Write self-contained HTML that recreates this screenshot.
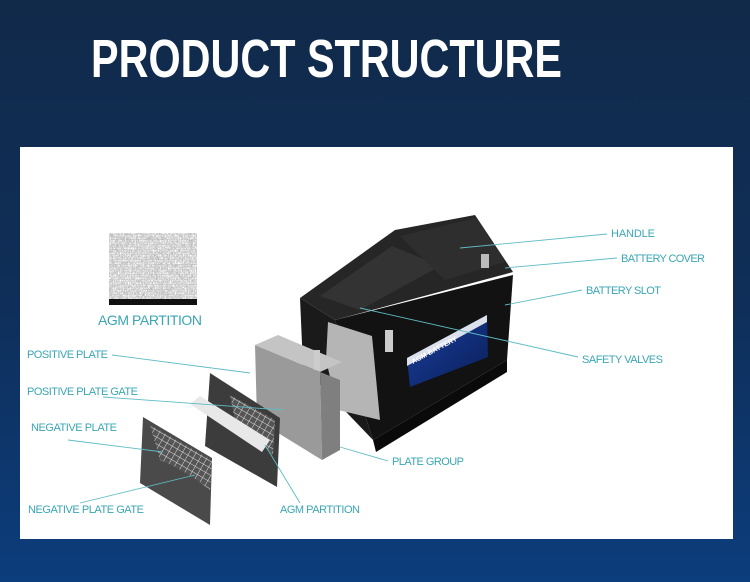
<!DOCTYPE html>
<html><head><meta charset="utf-8"><style>
html,body{margin:0;padding:0;width:750px;height:582px;overflow:hidden;background:#0f2a4a}
svg{display:block}
</style></head><body>
<svg width="750" height="582" viewBox="0 0 750 582" xmlns="http://www.w3.org/2000/svg">
<defs>
<linearGradient id="bg" x1="0" y1="0" x2="0" y2="1">
<stop offset="0" stop-color="#112a4a"/><stop offset="0.5" stop-color="#0f2e58"/><stop offset="1" stop-color="#0c3d7c"/>
</linearGradient>
<linearGradient id="lab" x1="0" y1="0" x2="1" y2="1">
<stop offset="0" stop-color="#1a3f9a"/><stop offset="1" stop-color="#0a1f5c"/>
</linearGradient>
<filter id="noise" filterUnits="userSpaceOnUse" x="109" y="233" width="88" height="66"><feTurbulence type="turbulence" baseFrequency="0.6 0.4" numOctaves="2" seed="5"/><feColorMatrix type="matrix" values="0.33 0.33 0.33 0 0  0.33 0.33 0.33 0 0  0.33 0.33 0.33 0 0  0 0 0 0 1"/><feComponentTransfer><feFuncR type="linear" slope="1.5" intercept="0.3"/><feFuncG type="linear" slope="1.5" intercept="0.3"/><feFuncB type="linear" slope="1.5" intercept="0.3"/></feComponentTransfer></filter>
<pattern id="grid" width="6" height="6" patternUnits="userSpaceOnUse" patternTransform="rotate(30)"><rect width="6" height="6" fill="#555"/><path d="M0 0H6M0 0V6" stroke="#ddd" stroke-width="1"/></pattern>
</defs>
<rect width="750" height="582" fill="url(#bg)"/>
<text x="91" y="77" font-family="Liberation Sans, sans-serif" font-size="54" font-weight="bold" fill="#fff" textLength="471" lengthAdjust="spacingAndGlyphs">PRODUCT STRUCTURE</text>
<rect x="20" y="147" width="713" height="392" fill="#fff"/>

<!-- AGM swatch -->
<rect x="109" y="233" width="88" height="66" fill="#8a8a8a"/>
<rect x="109" y="233" width="88" height="66" filter="url(#noise)"/>
<rect x="109" y="299" width="88" height="6" fill="#111"/>

<!-- battery -->
<polygon points="300,298 303,367 373,440 335,320" fill="#1a1a1a"/>
<polygon points="335,320 513,275 507,360 373,440" fill="#121212"/>
<polygon points="300,298 395,230 475,215 513,272 335,320" fill="#262626"/>
<polygon points="320,296 392,246 440,266 360,310" fill="#333"/>
<polygon points="400,236 476,218 505,262 445,280" fill="#2e2e2e"/>
<polygon points="373,440 507,360 507,372 376,452" fill="#0a0a0a"/>
<polygon points="407,358 487,315 488,357 410,387" fill="url(#lab)"/>
<polygon points="407,358 487,315 487,322 407,366" fill="#fff" opacity="0.85"/>
<text x="413" y="364" font-family="Liberation Sans,sans-serif" font-size="7" font-weight="bold" fill="#fff" transform="rotate(-28 413 364)">AGM BATTERY</text>
<rect x="481" y="254" width="8" height="14" fill="#bbb"/>
<!-- cutaway plates in battery -->
<polygon points="328,322 372,336 380,420 338,410 326,360" fill="#b5b5b5"/>
<rect x="385" y="330" width="8" height="22" fill="#ccc"/>
<!-- positive plate block -->
<polygon points="255,345 320,372 322,460 257,420" fill="#9a9a9a"/>
<polygon points="320,372 340,380 340,450 322,460" fill="#7f7f7f"/>
<polygon points="255,345 278,335 342,362 320,372" fill="#c4c4c4"/>
<rect x="314" y="350" width="6" height="20" fill="#ccc"/>
<!-- middle plate -->
<polygon points="210,373 280,418 277,487 205,446" fill="#3c3c3c"/>
<polygon points="230,395 275,420 273,455 235,420" fill="url(#grid)"/>
<path d="M190,404 L200,396 L270,440 L262,452 Z" fill="#e8e8e8"/>
<!-- negative plate -->
<polygon points="143,417 212,458 210,525 140,483" fill="#4a4a4a"/>
<path d="M150,425 L212,460 L210,490 Q185,470 160,460 Z" fill="url(#grid)"/>

<!-- leaders -->
<g stroke="#5fbcc4" stroke-width="0.9" fill="none">
<line x1="607" y1="234" x2="460" y2="248"/>
<line x1="617" y1="258" x2="505" y2="268"/>
<line x1="582" y1="290" x2="505" y2="305"/>
<line x1="578" y1="357" x2="360" y2="308"/>
<line x1="388" y1="461" x2="340" y2="447"/>
<line x1="300" y1="503" x2="265" y2="445"/>
<line x1="80" y1="503" x2="195" y2="475"/>
<line x1="68" y1="440" x2="163" y2="452"/>
<line x1="103" y1="397" x2="283" y2="410"/>
<line x1="112" y1="355" x2="250" y2="373"/>
</g>
<g font-family="Liberation Sans, sans-serif" font-size="11" fill="#3aa6b3" lengthAdjust="spacingAndGlyphs">
<text x="611" y="237" textLength="44">HANDLE</text>
<text x="621" y="262" textLength="84">BATTERY COVER</text>
<text x="586" y="294" textLength="75">BATTERY SLOT</text>
<text x="582" y="363" textLength="81">SAFETY VALVES</text>
<text x="392" y="465" textLength="72">PLATE GROUP</text>
<text x="280" y="513" textLength="80">AGM PARTITION</text>
<text x="28" y="513" textLength="116">NEGATIVE PLATE GATE</text>
<text x="31" y="431" textLength="86">NEGATIVE PLATE</text>
<text x="27" y="395" textLength="111">POSITIVE PLATE GATE</text>
<text x="27" y="358" textLength="81">POSITIVE PLATE</text>
<text x="98" y="325" font-size="14" textLength="104">AGM PARTITION</text>
</g>
</svg>
</body></html>
